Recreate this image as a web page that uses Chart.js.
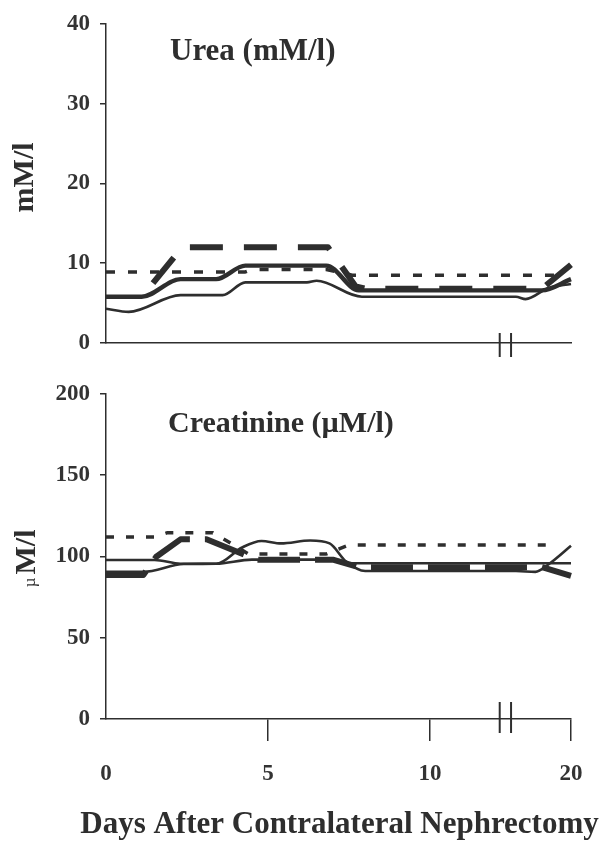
<!DOCTYPE html>
<html>
<head>
<meta charset="utf-8">
<script src="https://cdn.jsdelivr.net/npm/chart.js@4/dist/chart.umd.min.js"></script>
<style>
  html, body { margin: 0; padding: 0; background: #fff; }
  #wrap { position: relative; width: 604px; height: 844px; overflow: hidden; }
  canvas { position: absolute; left: 0; }
  #urea { top: 0; }
  #creat { top: 370px; }
</style>
</head>
<body>
<div id="wrap">
  <canvas id="urea" width="604" height="370"></canvas>
  <canvas id="creat" width="604" height="474"></canvas>
</div>
<script>
// ---- x axis: days after nephrectomy, with a break between day ~12 and day ~18 ----
const xTickDays = [0, 5, 10, 20];
const xTickLabels = ['0', '5', '10', '20'];
const breakDays = [12.15, 18.15];

// ---- Urea (mM/l) ----
const ureaTicks = [0, 10, 20, 30, 40];
const ureaHeavyDays = [0, 1.1, 2.3, 3.4, 4.3, 6.8, 7.8, 19.1, 20];
const ureaHeavyVals = [5.8, 5.8, 8.0, 8.0, 9.7, 9.7, 6.6, 6.6, 8.0];
const ureaThinDays = [0, 0.7, 2.3, 3.6, 4.3, 6.2, 6.5, 7.9, 18.3, 18.6, 19.3, 20];
const ureaThinVals = [4.3, 3.9, 6.0, 6.0, 7.6, 7.6, 7.8, 5.8, 5.8, 5.5, 6.9, 7.4];
const ureaDottedDays = [0, 4.3, 4.5, 6.8, 7.6, 19.5];
const ureaDottedVals = [8.9, 8.9, 9.2, 9.2, 8.5, 8.5];
const ureaDashedDays = [1.45, 2.35, 6.85, 7.7, 8.0, 19.1, 20];
const ureaDashedVals = [7.5, 12.0, 12.0, 7.1, 6.8, 6.8, 9.8];

// ---- Creatinine (µM/l) ----
const creatTicks = [0, 50, 100, 150, 200];
const creatThinADays = [0, 1.5, 2.3, 3.4, 4.2, 4.8, 5.4, 6.3, 6.9, 7.4, 8.0, 18.3, 18.9, 19.3, 20];
const creatThinAVals = [97.8, 97.8, 95.5, 95.5, 105.5, 109.5, 108, 109.8, 108, 97, 91, 91, 90.5, 95, 106.5];
const creatThinBDays = [0, 1.15, 2.4, 3.4, 4.5, 6.9, 7.5, 20];
const creatThinBVals = [90.5, 90.5, 95.3, 95.5, 98, 98, 95.8, 95.8];
const creatDottedDays = [0, 1.5, 1.9, 3.3, 4.4, 6.8, 7.5, 19.5];
const creatDottedVals = [112, 112, 114.6, 114.6, 101.5, 101.5, 107, 107];
const creatDashedDays = [0, 1.15, 1.55, 2.3, 3.1, 4.4, 4.7, 7.0, 7.8, 19.1, 20];
const creatDashedVals = [88.5, 88.5, 99.8, 110.5, 110.5, 100, 98, 98, 93.4, 93.4, 88];

const INK = '#2e2e2e';
const SERIF = '"Liberation Serif", "Times New Roman", serif';

// days before the break sit on the axis as-is; days after it are shifted left
function toAxis(d) { return d <= 12.33 ? d : d - 5.65; }
const xMax = toAxis(20);

function points(days, vals) {
  return days.map((d, i) => ({ x: toAxis(d), y: vals[i] }));
}

function line(days, vals, width, dash, smooth) {
  return {
    data: points(days, vals),
    borderColor: INK,
    borderWidth: width,
    borderDash: dash || [],
    borderCapStyle: 'butt',
    borderJoinStyle: 'round',
    pointRadius: 0,
    fill: false,
    tension: 0,
    cubicInterpolationMode: smooth ? 'monotone' : 'default',
    clip: false
  };
}

// break marks, caption inside the plot, and rotated y title
const decorations = {
  id: 'decorations',
  afterDraw(chart, args, o) {
    const ctx = chart.ctx;
    const area = chart.chartArea;
    const xs = chart.scales.x;
    ctx.save();
    ctx.strokeStyle = INK;
    ctx.lineWidth = 2;
    breakDays.forEach(d => {
      const px = xs.getPixelForValue(toAxis(d));
      ctx.beginPath();
      ctx.moveTo(px, area.bottom - o.breakUp);
      ctx.lineTo(px, area.bottom + o.breakDown);
      ctx.stroke();
    });

    ctx.fillStyle = INK;
    ctx.textBaseline = 'alphabetic';
    ctx.textAlign = 'left';
    ctx.font = 'bold ' + o.captionSize + 'px ' + SERIF;
    ctx.fillText(o.caption, area.left + o.captionDx, area.top + o.captionDy);

    // y title, rotated, optional small prefix in regular weight
    ctx.save();
    ctx.translate(o.yTitleX, (area.top + area.bottom) / 2 + o.yTitleDy);
    ctx.rotate(-Math.PI / 2);
    const smallFont = '17px ' + SERIF;
    const bigFont = 'bold 30px ' + SERIF;
    ctx.font = smallFont;
    const w1 = o.yPrefix ? ctx.measureText(o.yPrefix).width + 3 : 0;
    ctx.font = bigFont;
    const w2 = ctx.measureText(o.yTitle).width;
    let x0 = -(w1 + w2) / 2;
    if (o.yPrefix) {
      ctx.font = smallFont;
      ctx.fillText(o.yPrefix, x0, 0);
      x0 += w1;
    }
    ctx.font = bigFont;
    ctx.fillText(o.yTitle, x0, 0);
    ctx.restore();

    if (o.xTitle) {
      ctx.font = 'bold 31px ' + SERIF;
      ctx.textAlign = 'center';
      ctx.fillText(o.xTitle, (area.left + area.right) / 2 + 1, o.xTitleY);
    }
    ctx.restore();
  }
};

function yScale(max, ticks) {
  return {
    min: 0, max: max,
    afterBuildTicks: s => { s.ticks = ticks.map(v => ({ value: v })); },
    afterFit: s => { s.width = 106; },
    border: { display: true, color: INK, width: 1.5 },
    grid: { drawOnChartArea: false, drawTicks: true, tickLength: 6, color: INK, lineWidth: 1.5 },
    ticks: { color: '#333', padding: 10, font: { family: SERIF, size: 23, weight: 'bold' } }
  };
}

function makeChart(id, datasets, opts) {
  return new Chart(document.getElementById(id), {
    type: 'line',
    data: { datasets: datasets },
    options: {
      responsive: false,
      animation: false,
      events: [],
      layout: { padding: { left: 0, right: 33, top: opts.padTop, bottom: 0 } },
      plugins: { legend: { display: false }, tooltip: { enabled: false }, decorations: opts.deco },
      scales: {
        x: opts.x,
        y: yScale(opts.yMax, opts.yTicks)
      }
    },
    plugins: [decorations]
  });
}

makeChart('urea', [
  line(ureaDottedDays, ureaDottedVals, 3.5, [9, 13]),
  line(ureaThinDays, ureaThinVals, 2.6, null, true),
  line(ureaHeavyDays, ureaHeavyVals, 4.4, null, true),
  line(ureaDashedDays, ureaDashedVals, 6, [33, 21])
], {
  padTop: 18, yMax: 40, yTicks: ureaTicks,
  x: {
    type: 'linear', min: 0, max: xMax,
    afterFit: s => { s.height = 27; },
    border: { display: true, color: INK, width: 1.5 },
    grid: { display: false },
    ticks: { display: false }
  },
  deco: {
    breakUp: 10, breakDown: 14,
    caption: 'Urea (mM/l)', captionSize: 31, captionDx: 64, captionDy: 36,
    yTitle: 'mM/l', yPrefix: '', yTitleX: 33, yTitleDy: -6
  }
});

makeChart('creat', [
  line(creatDottedDays, creatDottedVals, 3.5, [8, 12]),
  line(creatThinADays, creatThinAVals, 2.6, null, true),
  line(creatThinBDays, creatThinBVals, 2.6, null, true),
  line(creatDashedDays, creatDashedVals, 6, [42, 15])
], {
  padTop: 17, yMax: 200, yTicks: creatTicks,
  x: {
    type: 'linear', min: 0, max: xMax,
    afterBuildTicks: s => { s.ticks = xTickDays.map(d => ({ value: toAxis(d) })); },
    afterFit: s => { s.height = 125; },
    border: { display: true, color: INK, width: 1.5 },
    grid: {
      drawOnChartArea: false, drawTicks: true, tickLength: 22, lineWidth: 1.5,
      color: INK,
      tickColor: c => (c.index === 0 ? 'rgba(0,0,0,0)' : INK)
    },
    ticks: {
      color: '#333', padding: 19, maxRotation: 0, autoSkip: false,
      font: { family: SERIF, size: 23, weight: 'bold' },
      callback: (v, i) => xTickLabels[i]
    }
  },
  deco: {
    breakUp: 17, breakDown: 14,
    caption: 'Creatinine (\u00b5M/l)', captionSize: 30, captionDx: 62, captionDy: 38,
    yTitle: 'M/l', yPrefix: '\u00b5', yTitleX: 35, yTitleDy: 2,
    xTitle: 'Days After Contralateral Nephrectomy', xTitleY: 463
  }
});
</script>
</body>
</html>
